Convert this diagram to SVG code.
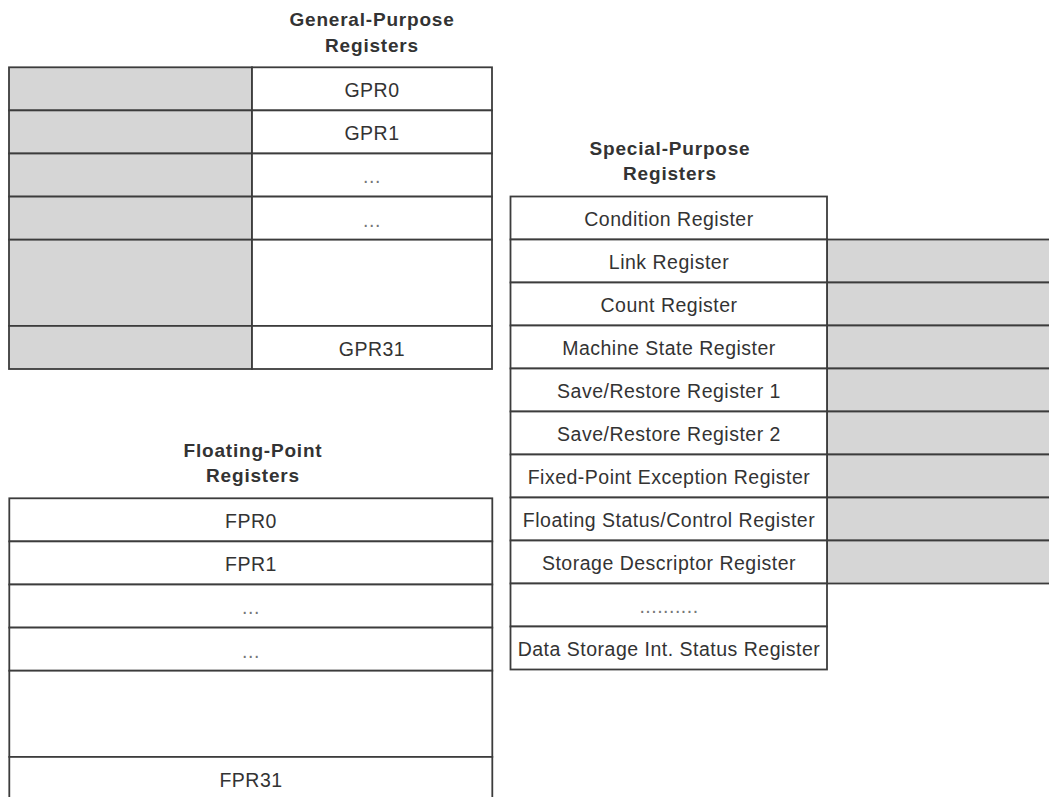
<svg xmlns="http://www.w3.org/2000/svg" width="1049" height="797" viewBox="0 0 1049 797">
<style>
.cell{fill:#ffffff;stroke:#3c3c3c;stroke-width:1.8}
.shade{fill:#d6d6d6;stroke:#3c3c3c;stroke-width:1.8}
.lbl{font-family:"Liberation Sans",Arial,sans-serif;font-size:19.5px;letter-spacing:0.5px;fill:#333333;text-anchor:middle}
.dots{fill:#777777}
.ttl{font-family:"Liberation Sans",Arial,sans-serif;font-size:19px;font-weight:bold;letter-spacing:0.8px;fill:#333333;text-anchor:middle}
</style>
<rect width="1049" height="797" fill="#ffffff"/>

<g id="gpr-title"><text class="ttl" x="372" y="26">General-Purpose</text><text class="ttl" x="372" y="52">Registers</text></g>
<g id="gpr">
  <g id="gpr0"><rect class="shade" x="9" y="67.3" width="243" height="43.1"/><rect class="cell" x="252" y="67.3" width="240" height="43.1"/><text class="lbl" x="372" y="97.2">GPR0</text></g>
  <g id="gpr1"><rect class="shade" x="9" y="110.4" width="243" height="43.1"/><rect class="cell" x="252" y="110.4" width="240" height="43.1"/><text class="lbl" x="372" y="140.3">GPR1</text></g>
  <g id="gpr-dots1"><rect class="shade" x="9" y="153.5" width="243" height="43.1"/><rect class="cell" x="252" y="153.5" width="240" height="43.1"/><text class="lbl dots" x="372" y="183.4">...</text></g>
  <g id="gpr-dots2"><rect class="shade" x="9" y="196.6" width="243" height="43.1"/><rect class="cell" x="252" y="196.6" width="240" height="43.1"/><text class="lbl dots" x="372" y="226.5">...</text></g>
  <g id="gpr-gap"><rect class="shade" x="9" y="239.7" width="243" height="86.2"/><rect class="cell" x="252" y="239.7" width="240" height="86.2"/></g>
  <g id="gpr31"><rect class="shade" x="9" y="325.9" width="243" height="43.1"/><rect class="cell" x="252" y="325.9" width="240" height="43.1"/><text class="lbl" x="372" y="355.8">GPR31</text></g>
</g>

<g id="spr-title"><text class="ttl" x="670" y="155">Special-Purpose</text><text class="ttl" x="670" y="180">Registers</text></g>
<g id="spr">
  <g id="cr"><rect class="cell" x="510.5" y="196.5" width="316.5" height="43"/><text class="lbl" x="669" y="226.3">Condition Register</text></g>
  <g id="lr"><rect class="shade" x="827" y="239.5" width="240" height="43"/><rect class="cell" x="510.5" y="239.5" width="316.5" height="43"/><text class="lbl" x="669" y="269.3">Link Register</text></g>
  <g id="ctr"><rect class="shade" x="827" y="282.5" width="240" height="43"/><rect class="cell" x="510.5" y="282.5" width="316.5" height="43"/><text class="lbl" x="669" y="312.3">Count Register</text></g>
  <g id="msr"><rect class="shade" x="827" y="325.5" width="240" height="43"/><rect class="cell" x="510.5" y="325.5" width="316.5" height="43"/><text class="lbl" x="669" y="355.3">Machine State Register</text></g>
  <g id="srr1"><rect class="shade" x="827" y="368.5" width="240" height="43"/><rect class="cell" x="510.5" y="368.5" width="316.5" height="43"/><text class="lbl" x="669" y="398.3">Save/Restore Register 1</text></g>
  <g id="srr2"><rect class="shade" x="827" y="411.5" width="240" height="43"/><rect class="cell" x="510.5" y="411.5" width="316.5" height="43"/><text class="lbl" x="669" y="441.3">Save/Restore Register 2</text></g>
  <g id="xer"><rect class="shade" x="827" y="454.5" width="240" height="43"/><rect class="cell" x="510.5" y="454.5" width="316.5" height="43"/><text class="lbl" x="669" y="484.3">Fixed-Point Exception Register</text></g>
  <g id="fpscr"><rect class="shade" x="827" y="497.5" width="240" height="43"/><rect class="cell" x="510.5" y="497.5" width="316.5" height="43"/><text class="lbl" x="669" y="527.3">Floating Status/Control Register</text></g>
  <g id="sdr1"><rect class="shade" x="827" y="540.5" width="240" height="43"/><rect class="cell" x="510.5" y="540.5" width="316.5" height="43"/><text class="lbl" x="669" y="570.3">Storage Descriptor Register</text></g>
  <g id="spr-dots"><rect class="cell" x="510.5" y="583.5" width="316.5" height="43"/><text class="lbl dots" x="669" y="613.3">..........</text></g>
  <g id="dsisr"><rect class="cell" x="510.5" y="626.5" width="316.5" height="43"/><text class="lbl" x="669" y="656.3">Data Storage Int. Status Register</text></g>
</g>

<g id="fpr-title"><text class="ttl" x="253" y="457.3">Floating-Point</text><text class="ttl" x="253" y="481.7">Registers</text></g>
<g id="fpr">
  <g id="fpr0"><rect class="cell" x="9.3" y="498.3" width="483" height="43.1"/><text class="lbl" x="251" y="528.2">FPR0</text></g>
  <g id="fpr1"><rect class="cell" x="9.3" y="541.4" width="483" height="43.1"/><text class="lbl" x="251" y="571.3">FPR1</text></g>
  <g id="fpr-dots1"><rect class="cell" x="9.3" y="584.5" width="483" height="43.1"/><text class="lbl dots" x="251" y="614.4">...</text></g>
  <g id="fpr-dots2"><rect class="cell" x="9.3" y="627.6" width="483" height="43.1"/><text class="lbl dots" x="251" y="657.5">...</text></g>
  <g id="fpr-gap"><rect class="cell" x="9.3" y="670.7" width="483" height="86.2"/></g>
  <g id="fpr31"><rect class="cell" x="9.3" y="756.9" width="483" height="50"/><text class="lbl" x="251" y="786.8">FPR31</text></g>
</g>

<g id="connectors"></g>
</svg>
